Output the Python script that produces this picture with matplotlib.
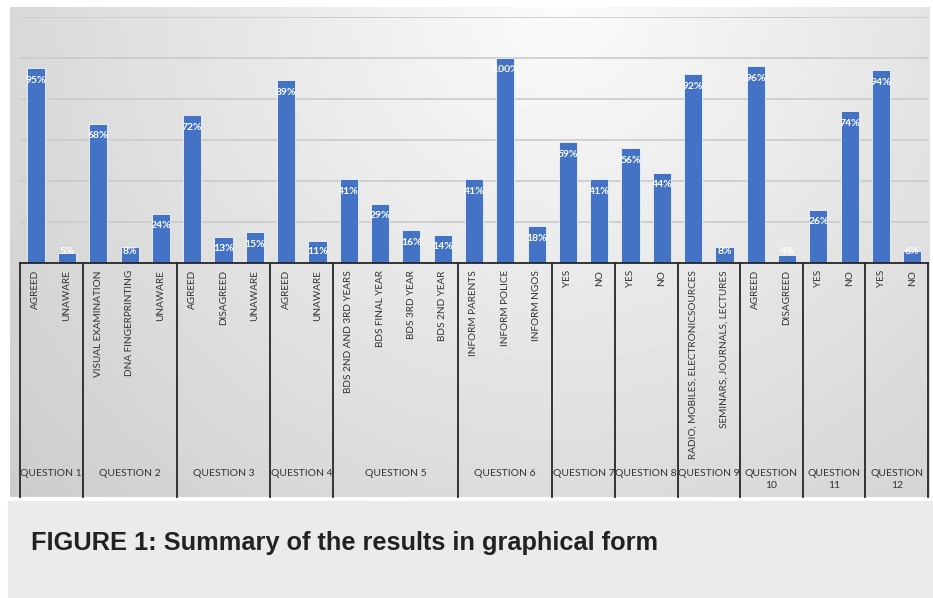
import numpy as np
import matplotlib.pyplot as plt
from matplotlib.patches import Rectangle

# Answer categories, in chart order
categories = [
    "AGREED", "UNAWARE",
    "VISUAL EXAMINATION", "DNA FINGERPRINTING", "UNAWARE",
    "AGREED", "DISAGREED", "UNAWARE",
    "AGREED", "UNAWARE",
    "BDS 2ND AND 3RD YEARS", "BDS FINAL YEAR", "BDS 3RD YEAR", "BDS 2ND YEAR",
    "INFORM PARENTS", "INFORM POLICE", "INFORM NGOS",
    "YES", "NO",
    "YES", "NO",
    "RADIO, MOBILES, ELECTRONICSOURCES", "SEMINARS, JOURNALS, LECTURES",
    "AGREED", "DISAGREED",
    "YES", "NO",
    "YES", "NO",
]
values = [95, 5, 68, 8, 24, 72, 13, 15, 89, 11, 41, 29, 16, 14,
          41, 100, 18, 59, 41, 56, 44, 92, 8, 96, 4, 26, 74, 94, 6]

groups = ["QUESTION 1", "QUESTION 2", "QUESTION 3", "QUESTION 4", "QUESTION 5",
          "QUESTION 6", "QUESTION 7", "QUESTION 8", "QUESTION 9",
          "QUESTION\n10", "QUESTION\n11", "QUESTION\n12"]
group_sizes = [2, 3, 3, 2, 4, 3, 2, 2, 2, 2, 2, 2]

W, H = 933, 598


def fx(px):
    return px / W


def fy(py):
    return 1 - py / H


fig = plt.figure(figsize=(W / 100, H / 100), dpi=100)
fig.patch.set_facecolor("white")

# soft grey gradient behind the chart (like the Excel picture)
bg = fig.add_axes([fx(10), fy(497), (930 - 10) / W, (497 - 7) / H])
yy, xx = np.mgrid[7:497, 10:930]
shade = 0.985 - 0.15 * np.hypot(xx - 560, yy) / 600
bg.imshow(shade, cmap="gray", vmin=0, vmax=1, aspect="auto", interpolation="bilinear")
bg.axis("off")

# caption panel
fig.add_artist(Rectangle((fx(8), 0), 1 - fx(8), (598 - 501) / H,
                         transform=fig.transFigure, color="#ebebeb", zorder=0))
fig.text(fx(31), fy(550), "FIGURE 1: Summary of the results in graphical form",
         family="Liberation Sans", weight="bold", fontsize=18.3, color="#222222",
         va="baseline", ha="left")

base_y, top_y = 263.3, 16.7
ax = fig.add_axes([fx(20), fy(base_y), 908 / W, (base_y - top_y) / H])
ax.patch.set_alpha(0)
x = np.arange(len(values))
ax.set_xlim(-0.5, len(values) - 0.5)
ax.set_ylim(0, 120)

for g in range(20, 121, 20):
    ax.axhline(g, color="#cbcbcb", lw=1.2, zorder=0)

ax.bar(x, values, width=0.58, color="#4472c4", edgecolor="#e3ebf7", linewidth=0.7, zorder=2)

px_per_unit = (base_y - top_y) / 120
for i, v in enumerate(values):
    if v * px_per_unit >= 24:
        ax.annotate(f"{v}%", (i, v), xytext=(0, -12), textcoords="offset pixels",
                    ha="center", va="center", color="white", fontsize=7.5,
                    weight="bold", family="Lato", zorder=3)
    else:
        ax.annotate(f"{v}%", (i, 0), xytext=(0, 12), textcoords="offset pixels",
                    ha="center", va="center", color="white", fontsize=7.5,
                    weight="bold", family="Lato", zorder=3)

for s in ["left", "right", "top"]:
    ax.spines[s].set_visible(False)
ax.spines["bottom"].set_color("#262626")
ax.spines["bottom"].set_linewidth(1.3)
ax.set_yticks([])
ax.set_xticks(x, categories, rotation=90, fontsize=7.2, color="#333333", family="Lato")
ax.tick_params(axis="x", length=0, pad=5)

# group boxes under the axis
trans = ax.get_xaxis_transform()
y_bottom = -(497 - base_y) / (base_y - top_y)
y_label = -(469 - base_y) / (base_y - top_y)
edges = np.concatenate([[0], np.cumsum(group_sizes)]) - 0.5
for b in edges:
    ax.plot([b, b], [0, y_bottom], transform=trans, clip_on=False,
            color="#262626", lw=1.3)
for name, a, b in zip(groups, edges[:-1], edges[1:]):
    ax.text((a + b) / 2, y_label, name, transform=trans, ha="center", va="top",
            fontsize=7.5, color="#333333", family="Lato", linespacing=1.45)

fig.savefig("out.png", dpi=100)
